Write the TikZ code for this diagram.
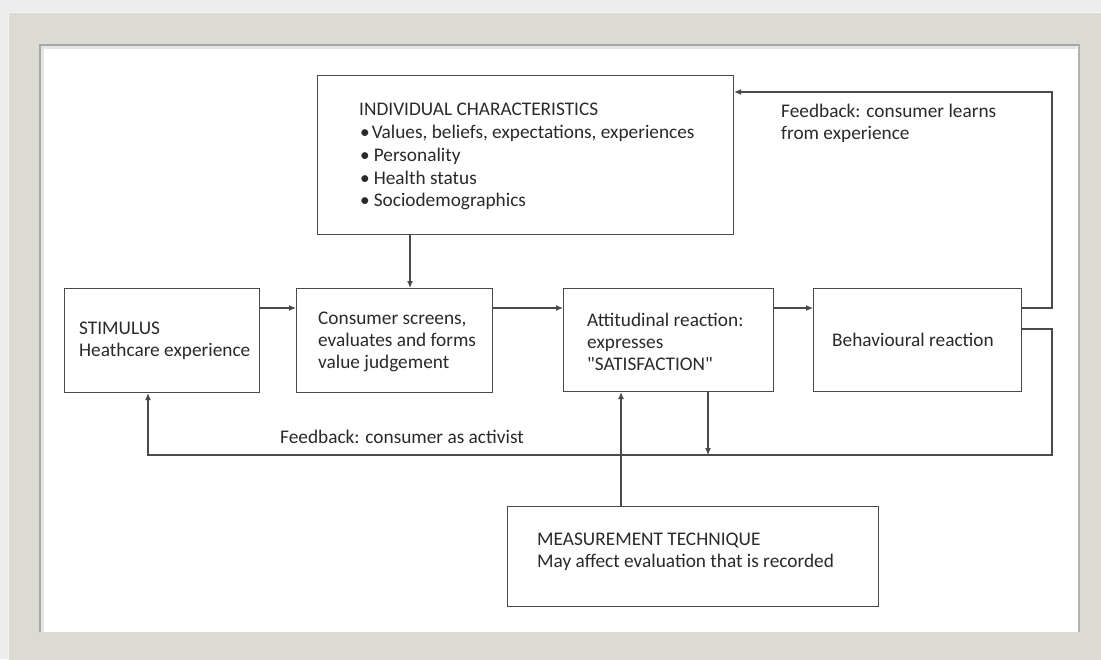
\documentclass[tikz,border=0pt]{standalone}
\usepackage{fontspec}
\setmainfont{Carlito}
\usetikzlibrary{arrows.meta,calc}
\definecolor{txtc}{HTML}{2A2A2A}
\definecolor{linec}{HTML}{4A4A4A}
\definecolor{framec}{HTML}{DCDBD3}
\definecolor{bgc}{HTML}{EDEDED}
\tikzset{
  box/.style={draw=linec, line width=1.1pt, fill=white, anchor=north west, inner sep=0pt},
  txt/.style={text=txtc, anchor=west, align=left, inner sep=0pt, font=\fontsize{19.3}{22}\selectfont},
  conn/.style={draw=linec, line width=1.1pt},
  arr/.style={conn, -{Latex[length=7pt,width=6pt]}},
}
\begin{document}
\begin{tikzpicture}[x=1pt,y=-1pt]
\useasboundingbox (0,0) rectangle (1101,659);
% background and frame
\fill[bgc] (0,0) rectangle (1101,659);
\fill[framec] (8,12) rectangle (1110,670);
\draw[white!70!framec, line width=1pt] (8.5,670) -- (8.5,12.5) -- (1110,12.5);
\fill[white] (40,45) rectangle (1080,632);
\draw[gray!70, line width=1.2pt] (40,632) -- (40,45) -- (1080,45);
\draw[gray!60, line width=1.2pt] (1079,45) -- (1079,632);
\draw[gray!20, line width=3pt] (42.5,632) -- (42.5,47.5) -- (1077,47.5);

% boxes
\node[box, minimum width=416, minimum height=159] (ic) at (317,75) {};
\node[box, minimum width=195, minimum height=104] (stim) at (64,288) {};
\node[box, minimum width=196, minimum height=104] (cons) at (296,288) {};
\node[box, minimum width=210, minimum height=103] (att) at (563,288) {};
\node[box, minimum width=208, minimum height=103] (beh) at (813,288) {};
\node[box, minimum width=371, minimum height=100] (meas) at (507,506) {};

% texts
\node[txt, font=\fontsize{19.3}{22.9}\selectfont] (icT) at (359,156.5) {INDIVIDUAL CHARACTERISTICS\\
  \kern1pt\textbullet\kern2pt Values, beliefs, expectations, experiences\\
  \kern1pt\textbullet\kern4pt Personality\\
  \kern1pt\textbullet\kern4pt Health status\\
  \kern1pt\textbullet\kern4pt Sociodemographics};
\node[txt] (stimT) at (79,341) {STIMULUS\\Heathcare experience};
\node[txt] (consT) at (318,342) {Consumer screens,\\evaluates and forms\\value judgement};
\node[txt] (attT) at (587,342) {Attitudinal reaction:\\expresses\\\textquotedbl SATISFACTION\textquotedbl};
\node[txt] (behT) at (832,340) {Behavioural reaction};
\node[txt] (measT) at (537,552) {MEASUREMENT TECHNIQUE\\May affect evaluation that is recorded};
\node[txt] (fb1) at (781,123) {Feedback: consumer learns\\from experience};
\node[txt] (fb2) at (280,437) {Feedback: consumer as activist};

% coordinates for connector corners
\coordinate (rtop) at (1052,92);
\coordinate (rbot) at (1052,455);
\coordinate (lbot) at (148,455);
\coordinate (mid) at (708,455);

% connectors
\draw[arr] (ic.south west -| 410,0) -- (cons.north west -| 410,0);
\draw[arr] ($(stim.north east)+(0,20)$) -- ($(cons.north west)+(0,20)$);
\draw[arr] ($(cons.north east)+(0,20)$) -- ($(att.north west)+(0,20)$);
\draw[arr] ($(att.north east)+(0,20)$) -- ($(beh.north west)+(0,20)$);
\draw[arr] ($(beh.north east)+(0,20)$) -| (rtop) -- (rtop -| ic.east);
\draw[arr] ($(beh.north east)+(0,41)$) -| (rbot) -- (lbot) -- (lbot |- stim.south);
\draw[arr] (att.south -| mid) -- (mid);
\draw[arr] (meas.north -| 621,0) -- (att.south -| 621,0);
\end{tikzpicture}
\end{document}
